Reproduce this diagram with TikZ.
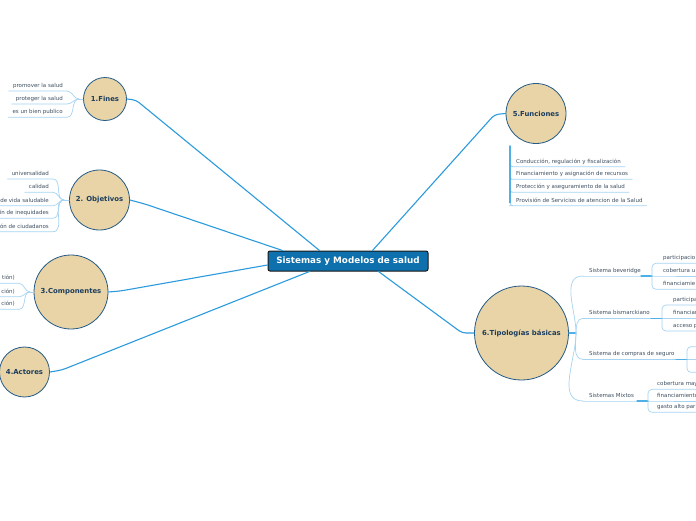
\documentclass[tikz,border=0pt]{standalone}
\usepackage{fontspec}
\setmainfont{DejaVu Sans}
\usetikzlibrary{calc}
\definecolor{crema}{HTML}{E8D4A7}
\definecolor{bordo}{HTML}{245A85}
\definecolor{inchiostro}{HTML}{1C3D5E}
\definecolor{grigio}{HTML}{3E4F60}
\definecolor{azzurro}{HTML}{2C9BDD}
\definecolor{celeste}{HTML}{A6D4F2}
\definecolor{medio}{HTML}{4FB0E8}
\definecolor{blu}{HTML}{0E70AC}

\begin{document}
\begin{tikzpicture}[x=1pt, y=-1pt, line cap=round,
	tema/.style={circle, draw=bordo, line width=0.8pt, fill=crema, text=inchiostro,
		font=\fontsize{6.9}{8}\selectfont\bfseries, inner sep=0pt},
	centro/.style={rectangle, rounded corners=2pt, draw=black!90, line width=1pt, fill=blu,
		text=white, font=\fontsize{8.8}{10}\selectfont\bfseries,
		minimum width=160pt, minimum height=20pt},
	hoja/.style={font=\fontsize{5.5}{6}\selectfont, text=grigio, inner xsep=4pt,
		inner ysep=2pt, text height=4pt, text depth=1.2pt},
	rama/.style={draw=azzurro, line width=1.1pt},
	ramita/.style={draw=celeste, line width=0.7pt},
	tronco/.style={draw=medio, line width=1.3pt}]

	% ---- cornice ----
	\useasboundingbox (0,0) rectangle (696,520);
	\clip (0,0) rectangle (696,520);
	\fill[white] (0,0) rectangle (696,520);

	% ---- nodo centrale ----
	\node[centro] (centro) at (348,261) {Sistemas y Modelos de salud};

	% ---- temi (cerchi) ----
	\node[tema, minimum size=43pt] (fines) at (105,99) {1.Fines};
	\node[tema, minimum size=60pt] (objetivos) at (99.5,200) {2. Objetivos};
	\node[tema, minimum size=74pt] (componentes) at (71,292) {3.Componentes};
	\node[tema, minimum size=50pt] (actores) at (24.5,372) {4.Actores};
	\node[tema, minimum size=60pt] (funciones) at (536,113.5) {5.Funciones};
	\node[tema, minimum size=94pt] (tipologias) at (521.5,333) {6.Tipologías básicas};

	% ---- rami principali ----
	\draw[rama, rounded corners=4] (fines.east) -- ++(9,1) -- ($(centro.north west)+(52,0)$);
	\draw[rama, rounded corners=4] (objetivos.east) -- ++(15,4) -- ($(centro.north west)+(15,0)$);
	\draw[rama, rounded corners=4] (componentes.east) -- ++(12,-1) -- ($(centro.west)+(0,4)$);
	\draw[rama, rounded corners=4] (actores.east) -- ++(12,-2) -- ($(centro.south west)+(42,0)$);
	\draw[rama, rounded corners=4] (funciones.west) -- ++(-11,1) -- ($(centro.north east)+(-56,0)$);
	\draw[rama, rounded corners=4] (tipologias.west) -- ++(-12,0) -- ($(centro.south east)+(-50,0)$);

	% ---- foglie di Fines ----
	\coordinate (fj) at (79,99);
	\foreach \n/\y/\t in {1/91/promover la salud, 2/104/proteger la salud, 3/117.3/es un bien publico}{
			\node[hoja, anchor=south east] (f\n) at (67,\y) {\t};
			\draw[ramita] (f\n.south west) -- (f\n.south east) to[out=0,in=180] (fj);
		}
	\draw[ramita] (fj) -- (fines.west);

	% ---- foglie di Objetivos ----
	\coordinate (oj) at (64,200);
	\foreach \n/\y/\t in {1/179/universalidad, 2/192.3/calidad, 3/205.7/de vida saludable,
			4/218.3/ín de inequidades, 5/231.7/ón de ciudadanos}{
			\node[hoja, anchor=south east] (o\n) at (53,\y) {\t};
			\draw[ramita] (o\n.south west) -- (o\n.south east) to[out=0,in=180] (oj);
		}
	\draw[ramita] (oj) -- (objetivos.west);

	% ---- foglie di Componentes ----
	\coordinate (cj) at (30,292);
	\foreach \n/\y/\t in {1/283.3/tión), 2/296.7/ción), 3/309.3/ción)}{
			\node[hoja, anchor=south east] (c\n) at (19,\y) {\t};
			\draw[ramita] (c\n.south west) -- (c\n.south east) to[out=0,in=180] (cj);
		}
	\draw[ramita] (cj) -- (componentes.west);

	% ---- foglie di Funciones ----
	\coordinate (uj) at (510,146);
	\foreach \n/\y/\t in {1/166.7/{Conducción, regulación y fiscalización},
			2/179.3/Financiamiento y asignación de recursos,
			3/192.3/Protección y aseguramiento de la salud,
			4/205.7/Provisión de Servicios de atencion de la Salud}{
			\node[hoja, anchor=south west] (u\n) at (512,\y) {\t};
			\draw[ramita, rounded corners=3] (uj) |- (u\n.south west) -- (u\n.south east);
		}
	\draw[tronco] (uj) -- ($(uj |- u4.south)+(0,-3)$);

	% ---- tipologie ----
	\coordinate (tj) at (576,333);
	\draw[tronco] (tipologias.east) -- (tj);
	\foreach \n/\y/\t/\ang in {1/276/Sistema beveridge/90, 2/318.3/Sistema bismarckiano/90,
			3/359.3/Sistema de compras de seguro/-90, 4/401/Sistemas Mixtos/-90}{
			\node[hoja, inner xsep=6pt, anchor=south west] (t\n) at (583,\y) {\t};
			\draw[ramita] (tj) to[out=\ang,in=180] (t\n.south west);
		}

	% ---- parentesi e sotto-foglie ----
	\foreach \k/\xb/\ya/\yb/\yc in {1/652/263.3/276/289.3, 2/662/305/318.3/331,
			3/687/346.7/359.3/372.3, 4/648/389.3/401/412.3}{
			\coordinate (b\k) at (\xb,\yb);
			\draw[ramita] (t\k.south west) -- (b\k) -- (700,\yb);
			\draw[tronco] ($(b\k)+(-11,0)$) -- (b\k);
			\draw[ramita, rounded corners=4] (700,\ya) -- (\xb,\ya) -- (\xb,\yc) -- (700,\yc);
		}
	\foreach \n/\x/\y/\t in {11/659/263.3/participacio, 12/659/276/cobertura u, 13/659/289.3/financiamie,
			21/669/305/participa, 22/669/318.3/financiar, 23/669/331/acceso p,
			41/653/389.3/cobertura may, 42/653/401/financiamiento, 43/653/412.3/gasto alto par}{
			\node[hoja, anchor=south west] (s\n) at (\x,\y) {\t};
		}

\end{tikzpicture}
\end{document}
